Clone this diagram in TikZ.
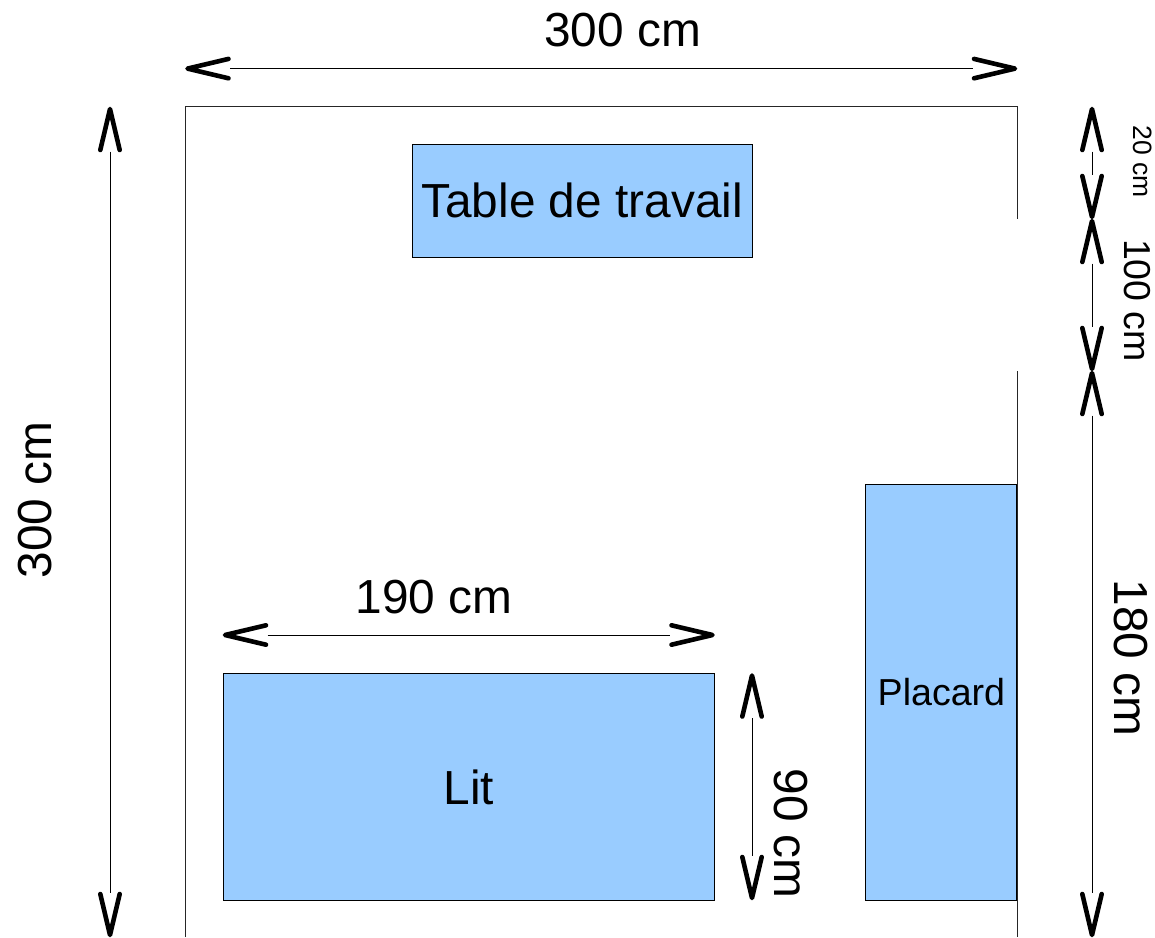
\documentclass[tikz,border=0pt]{standalone}
\usepackage{fontspec}
\setmainfont{Liberation Sans}
\definecolor{meuble}{HTML}{99CCFF}
\pgfdeclarearrow{
  name=cote tip,
  setup code={\pgfarrowssettipend{44.5pt}\pgfarrowssetlineend{0pt}\pgfarrowssetbackend{-2pt}\pgfarrowssetvisualbackend{0pt}},
  drawing code={
    \pgfsetlinewidth{4.6pt}\pgfsetroundcap\pgfsetroundjoin\pgfsetdash{}{0pt}
    \pgfpathmoveto{\pgfqpoint{1.5pt}{9.7pt}}
    \pgfpathlineto{\pgfqpoint{42.5pt}{0pt}}
    \pgfpathlineto{\pgfqpoint{1.5pt}{-9.7pt}}
    \pgfusepathqstroke
  }
}
\begin{document}
\begin{tikzpicture}[x=1pt,y=-1pt]
        \tikzset{meuble box/.style={draw,fill=meuble,line width=0.9pt,inner sep=0pt,minimum width=#1},
                 cote/.style={line width=0.8pt,{cote tip}-{cote tip}},
                 mur/.style={line width=0.9pt,black!85},
                 label big/.style={font=\fontsize{47.8}{48}\selectfont,inner sep=0pt}}
        \useasboundingbox (0,0) rectangle (1155,937);

        \node[meuble box=340pt,minimum height=113.5pt,label big] (table) at (582.2,200.7) {Table de travail};
        \node[meuble box=491.5pt,minimum height=226.5pt,label big] (lit) at (469,786.9) {Lit};
        \node[meuble box=151pt,minimum height=415.5pt,font=\fontsize{37.6}{38}\selectfont] (placard) at (941.4,692.2) {Placard};

        % murs
        \coordinate (murA) at (185.5,937);
        \coordinate (murB) at (185.5,106.4);
        \coordinate (murC) at (1017,106.4);
        \coordinate (murD) at (1017,219);
        \coordinate (murE) at (1017,371);
        \coordinate (murF) at (1017,937);
        \draw[mur] (murA) -- (murB) -- (murC) -- (murD);
        \draw[mur] (murE) -- (murF);

        % cotes
        \coordinate (hautG) at (185.5,68.6);
        \coordinate (hautD) at (1017,68.6);
        \coordinate (gaucheH) at (110,107);
        \coordinate (gaucheB) at (110,937);
        \coordinate (droiteA) at (1092,107);
        \coordinate (droiteB) at (1092,219);
        \coordinate (droiteC) at (1092,371);
        \coordinate (droiteD) at (1092,937);
        \coordinate (litG) at (223,635);
        \coordinate (litD) at (714.5,635);
        \coordinate (litH) at (752,673.5);
        \coordinate (litB) at (752,900);
        \draw[cote] (hautG) -- (hautD);
        \draw[cote] (gaucheH) -- (gaucheB);
        \draw[cote] (droiteA) -- (droiteB);
        \draw[cote] (droiteB) -- (droiteC);
        \draw[cote] (droiteC) -- (droiteD);
        \draw[cote] (litG) -- (litD);
        \draw[cote] (litH) -- (litB);

        \node[label big] (l300h) at (622.5,30) {300 cm};
        \node[label big,rotate=90] (l300v) at (35.5,500) {300 cm};
        \node[label big] (l190) at (434,597) {190 cm};
        \node[label big,rotate=-90] (l180) at (1131,658) {180 cm};
        \node[label big,rotate=-90] (l90) at (790.5,833.5) {90 cm};
        \node[rotate=-90,inner sep=0pt,font=\fontsize{37.5}{38}\selectfont] (l100) at (1137.5,300.5) {100 cm};
        \node[rotate=-90,inner sep=0pt,font=\fontsize{26.5}{27}\selectfont] (l20) at (1142.5,161.5) {20 cm};
\end{tikzpicture}
\end{document}
